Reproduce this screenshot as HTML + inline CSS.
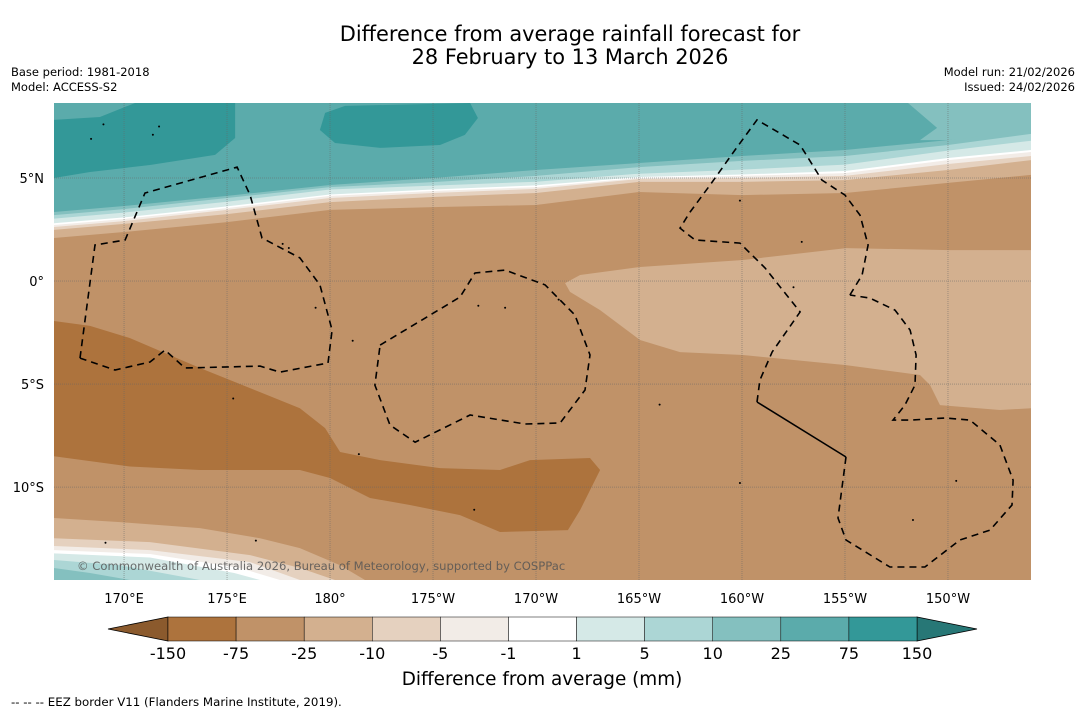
<!DOCTYPE html>
<html><head><meta charset="utf-8">
<style>
body{margin:0;background:#fff;width:1085px;height:713px;overflow:hidden;font-family:"Liberation Sans","DejaVu Sans",sans-serif;}
svg text{font-family:"DejaVu Sans","Liberation Sans",sans-serif;}
</style></head>
<body>
<svg id="chart" width="1085" height="713" viewBox="0 0 1085 713" xmlns="http://www.w3.org/2000/svg">
<text x="570" y="41" font-size="20.9" text-anchor="middle" fill="#000">Difference from average rainfall forecast for</text>
<text x="570" y="64" font-size="20.9" text-anchor="middle" fill="#000">28 February to 13 March 2026</text>
<text x="11" y="76" font-size="11.5">Base period: 1981-2018</text>
<text x="11" y="91" font-size="11.5">Model: ACCESS-S2</text>
<text x="1075" y="76" font-size="11.5" text-anchor="end">Model run: 21/02/2026</text>
<text x="1075" y="91" font-size="11.5" text-anchor="end">Issued: 24/02/2026</text>
<defs><clipPath id="mapclip"><rect x="54" y="103" width="977" height="477"/></clipPath></defs>
<g id="map" clip-path="url(#mapclip)"></g>
<g id="axes"></g>
<g id="cbar"></g>
<text x="542" y="685" font-size="18.4" text-anchor="middle">Difference from average (mm)</text>
<text x="11" y="706" font-size="11.8">--  --  -- EEZ border V11 (Flanders Marine Institute, 2019).</text>
</svg>
<script>
const NS="http://www.w3.org/2000/svg";
// ---- data ----
const lonTicks=[170,175,180,185,190,195,200,205,210];
const lonTickLabels=["170°E","175°E","180°","175°W","170°W","165°W","160°W","155°W","150°W"];
const latTicks=[5,0,-5,-10];
const latTickLabels=["5°N","0°","5°S","10°S"];
const gridLons=[166.6,170,175,180,185,190,195,200,205,210,214.03];
// northern contour boundaries (latitude at each gridLon)
const bound25n=[2.09,2.38,2.86,3.45,3.59,3.69,4.32,4.17,4.27,4.76,5.15];
const bound10n=[2.48,2.77,3.25,3.83,4.08,4.27,4.81,4.81,4.90,5.39,5.87];
const bound5n=[2.62,2.91,3.45,4.03,4.27,4.47,4.95,5.00,5.10,5.68,6.07];
const bound1n=[2.72,3.01,3.54,4.13,4.37,4.56,5.00,5.10,5.24,5.87,6.26];
const boundP1=[2.80,3.09,3.62,4.20,4.44,4.64,5.05,5.17,5.34,5.97,6.36];
const boundP5=[3.03,3.32,3.85,4.44,4.63,4.82,5.21,5.41,5.65,6.33,6.81];
const boundP10=[3.20,3.49,4.03,4.56,4.80,5.10,5.53,5.83,6.07,6.60,7.14];
const boundP25=[3.35,3.64,4.13,4.66,5.00,5.39,5.73,6.07,6.36,6.84,7.43];
const blobWest=[[166.6,7.82],[168.83,7.96],[170.53,8.64],[175.39,8.64],[175.39,6.94],[174.42,6.12],[171.26,5.63],[168.35,5.29],[166.6,5.0]];
const blobCentral=[[179.76,8.16],[180.73,8.50],[186.80,8.64],[187.18,7.91],[186.55,7.09],[185.34,6.60],[182.43,6.46],[180.24,6.70],[179.51,7.33]];
const wetNE=[[208.06,8.64],[214.03,8.64],[214.03,7.33],[210.05,6.84],[208.64,6.84],[209.47,7.43]];
const dryEast=[[191.41,-0.10],[192.14,0.29],[195.05,0.68],[200.05,1.02],[205.05,1.60],[210.05,1.50],[214.03,1.50],[214.03,-6.17],[212.52,-6.26],[209.61,-6.02],[209.13,-5.05],[208.64,-4.56],[205.05,-4.08],[200.05,-3.59],[196.99,-3.45],[195.05,-2.86],[193.11,-1.41],[191.65,-0.53]];
const veryDryBand=[[166.6,-1.94],[168.35,-2.18],[170.29,-2.77],[173.69,-4.22],[176.60,-5.39],[178.54,-6.17],[179.76,-7.14],[180.49,-8.30],[182.43,-8.69],[185.34,-9.08],[188.25,-9.17],[189.71,-8.69],[192.62,-8.59],[193.11,-9.17],[192.14,-11.12],[191.55,-12.09],[188.25,-12.18],[186.31,-11.36],[183.88,-10.87],[181.94,-10.53],[180.0,-9.56],[178.54,-9.17],[173.69,-9.17],[170.29,-9.0],[166.6,-8.50]];
const south25=[[166.6,-11.50],[169.81,-11.70],[173.69,-11.99],[176.60,-12.48],[178.54,-12.96],[180.49,-13.79],[181.70,-14.51]];
const south10=[[166.6,-12.48],[171.26,-12.67],[176.12,-13.30],[178.54,-13.93],[180.24,-14.51]];
const south5=[[166.6,-12.86],[171.26,-13.06],[176.12,-13.64],[178.54,-14.51]];
const south1=[[166.6,-13.06],[171.26,-13.25],[175.63,-13.93],[177.57,-14.51]];
const southP1=[[166.6,-13.22],[171.26,-13.42],[175.35,-14.17],[176.6,-14.51]];
const southP5=[[166.6,-13.54],[169.81,-13.79],[173.69,-14.51]];
const southP10=[[166.6,-13.93],[168.35,-14.17],[170.29,-14.51]];
const eezWest=[[167.86,-3.74],[168.59,1.75],[170.05,1.99],[171.02,4.27],[175.49,5.53],[176.12,4.17],[176.70,2.09],[178.54,1.12],[179.51,-0.19],[180.10,-2.38],[179.90,-3.98],[177.57,-4.42],[176.60,-4.13],[172.96,-4.22],[171.99,-3.35],[171.26,-3.93],[169.56,-4.32],[167.86,-3.74]];
const eezCentral=[[182.43,-3.11],[186.31,-0.78],[187.04,0.39],[188.50,0.53],[190.44,-0.19],[191.89,-1.65],[192.62,-3.59],[192.38,-5.29],[191.17,-6.89],[189.47,-6.94],[186.80,-6.50],[184.13,-7.82],[182.91,-6.99],[182.18,-5.05],[182.43,-3.11]];
const eezEast=[[205.24,-0.68],[205.83,0.29],[206.12,1.75],[205.73,3.20],[205.0,4.17],[203.88,4.90],[202.82,6.60],[200.73,7.82],[199.66,6.36],[198.45,4.66],[197.48,3.35],[196.99,2.57],[197.72,1.99],[199.90,1.84],[201.12,0.63],[202.82,-1.50],[201.46,-3.45],[200.87,-4.81],[200.73,-5.87]];
const eezSolid=[[200.73,-5.87],[205.05,-8.54]];
const eezSouth=[[205.05,-8.54],[204.66,-11.50],[205.05,-12.57],[207.18,-13.88],[208.88,-13.88],[210.58,-12.57],[212.04,-12.09],[213.11,-10.87],[213.16,-9.66],[212.52,-7.96],[211.07,-6.75],[209.85,-6.65],[208.16,-6.75],[207.33,-6.75],[207.91,-6.02],[208.40,-5.05],[208.45,-3.59],[208.16,-2.38],[207.43,-1.41],[206.21,-0.83],[205.24,-0.68]];
const islands=[[168.4,6.9],[171.4,7.1],[171.7,7.5],[169.0,7.6],[178.0,1.6],[177.7,1.8],[179.3,-1.3],[181.1,-2.9],[187.2,-1.2],[188.5,-1.3],[191.1,-0.9],[199.9,3.9],[202.9,1.9],[202.5,-0.3],[196.0,-6.0],[199.9,-9.8],[210.4,-9.7],[208.3,-11.6],[181.4,-8.4],[175.3,-5.7],[187.0,-11.1],[176.4,-12.6],[169.1,-12.7]];
const cbarBounds=["-150","-75","-25","-10","-5","-1","1","5","10","25","75","150"];
const cbarColors=["#ad733d","#c09268","#d3b08f","#e5d1bf","#f2ece7","#ffffff","#d5e9e7","#acd6d5","#84c0bf","#5babab","#339898"];
const extendColors=["#8b5a2d","#277776"];
// ---- axis functions ----
const X0=54,X1=1031,Y0=103,Y1=580;
const lonMin=166.6,lonMax=214.03,latMax=8.64,latMin=-14.51;
function xs(lon){return X0+(lon-lonMin)/(lonMax-lonMin)*(X1-X0);}
function ys(lat){return Y0+(latMax-lat)/(latMax-latMin)*(Y1-Y0);}
const map=document.getElementById('map'),axes=document.getElementById('axes'),cbar=document.getElementById('cbar');
function mk(tag,attrs,parent){const e=document.createElementNS(NS,tag);for(const k in attrs)e.setAttribute(k,attrs[k]);parent.appendChild(e);return e;}
function pts(arr){return arr.map(p=>xs(p[0]).toFixed(1)+','+ys(p[1]).toFixed(1)).join(' ');}
let e;
e=mk('rect',{x:X0,y:Y0,width:X1-X0,height:Y1-Y0,fill:'#5babab'},map);


const nb=[[boundP25,'#84c0bf','contour-10-25'],[boundP10,'#acd6d5','contour-5-10'],[boundP5,'#d5e9e7','contour-1-5'],[boundP1,'#ffffff','contour-neutral'],[bound1n,'#f2ece7','contour-m1-m5'],[bound5n,'#e5d1bf','contour-m5-m10'],[bound10n,'#d3b08f','contour-m10-m25'],[bound25n,'#c09268','contour-m25-m75']];
nb.forEach(b=>{const p=gridLons.map((l,i)=>[l,b[0][i]]);p.push([lonMax,latMin],[lonMin,latMin]);
 e=mk('polygon',{points:pts(p),fill:b[1]},map);
 
 });
[[blobWest,'#339898','wet-75-150-west'],[blobCentral,'#339898','wet-75-150-central'],[wetNE,'#84c0bf','wet-10-25-northeast'],[dryEast,'#d3b08f','dry-10-25-east'],[veryDryBand,'#ad733d','very-dry-75-150-band']].forEach(r=>{
 e=mk('polygon',{points:pts(r[0]),fill:r[1]},map);
 
 });
[[south25,'#d3b08f'],[south10,'#e5d1bf'],[south5,'#f2ece7'],[south1,'#ffffff'],[southP1,'#d5e9e7'],[southP5,'#acd6d5'],[southP10,'#84c0bf']].forEach((r,i)=>{
 const p=r[0].concat([[lonMin,latMin]]);
 e=mk('polygon',{points:pts(p),fill:r[1]},map);
 
 });
lonTicks.forEach(l=>{e=mk('line',{x1:xs(l),x2:xs(l),y1:Y0,y2:Y1,stroke:'#666','stroke-width':0.5,'stroke-dasharray':'1,1'},map);
 
 });
latTicks.forEach(l=>{e=mk('line',{x1:X0,x2:X1,y1:ys(l),y2:ys(l),stroke:'#666','stroke-width':0.5,'stroke-dasharray':'1,1'},map);
 
 });
islands.forEach(p=>{e=mk('circle',{cx:xs(p[0]),cy:ys(p[1]),r:1,fill:'#000'},map);
 
 });
[eezWest,eezCentral,eezEast,eezSouth].forEach(r=>{e=mk('polyline',{points:pts(r),fill:'none',stroke:'#000','stroke-width':1.6,'stroke-dasharray':'7,5'},map);
 
 });
e=mk('polyline',{points:pts(eezSolid),fill:'none',stroke:'#000','stroke-width':1.6},map);


e=mk('text',{x:77,y:570,'font-size':11.6,fill:'#555','fill-opacity':0.85},map);
e.textContent='© Commonwealth of Australia 2026, Bureau of Meteorology, supported by COSPPac';


lonTicks.forEach((l,i)=>{e=mk('text',{x:xs(l),y:603,'font-size':13,'text-anchor':'middle'},axes);e.textContent=lonTickLabels[i];
 
 });
latTicks.forEach((l,i)=>{e=mk('text',{x:44,y:ys(l)+5,'font-size':13,'text-anchor':'end'},axes);e.textContent=latTickLabels[i];
 
 });
// colorbar
const cbX0=168,cbX1=917,cbY=617,cbH=24,nBox=cbarColors.length,bw=(cbX1-cbX0)/nBox;
e=mk('polygon',{points:`108,${cbY+cbH/2} ${cbX0},${cbY} ${cbX0},${cbY+cbH}`,fill:extendColors[0],stroke:'#000','stroke-width':0.8},cbar);


e=mk('polygon',{points:`977,${cbY+cbH/2} ${cbX1},${cbY} ${cbX1},${cbY+cbH}`,fill:extendColors[1],stroke:'#000','stroke-width':0.8},cbar);


cbarColors.forEach((c,i)=>{e=mk('rect',{x:cbX0+i*bw,y:cbY,width:bw,height:cbH,fill:c,stroke:'#000','stroke-width':0.5},cbar);
 
 });
cbarBounds.forEach((b,i)=>{e=mk('text',{x:cbX0+i*bw,y:659,'font-size':16,'text-anchor':'middle'},cbar);e.textContent=b;
 
 });
</script>
</body></html>
